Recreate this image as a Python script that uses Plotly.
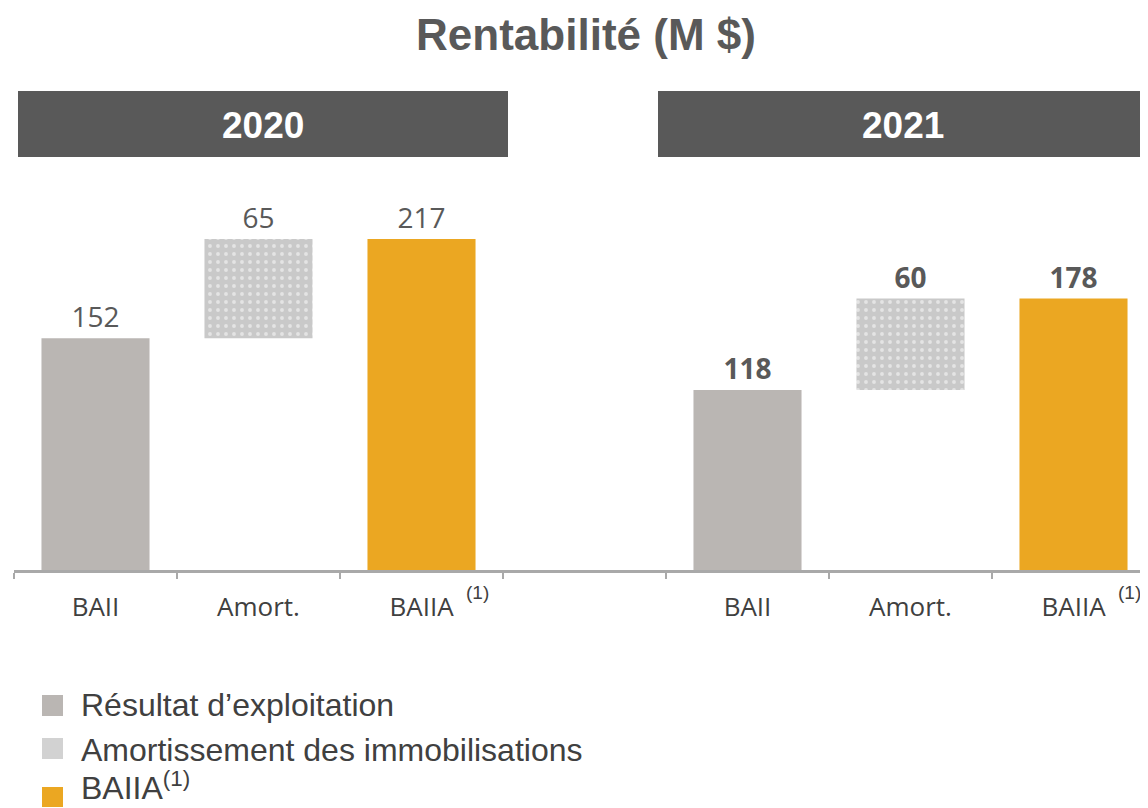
import plotly.graph_objects as go

# Page body adds an 8px margin; figure is sized so reference pixels map 1:1
OFF = 8
W, H = 1148 - OFF, 808 - OFF

# ---------------- data ----------------
years = ["2020", "2021"]
ebit = [152, 118]          # BAII
amort = [65, 60]           # Amortissement
ebitda = [217, 178]        # BAIIA
cat_ids = ["BAII_2020", "Amort_2020", "BAIIA_2020", "gap",
           "BAII_2021", "Amort_2021", "BAIIA_2021"]
tick_labels = ["BAII", "Amort.", "BAIIA", " ", "BAII", "Amort.", "BAIIA"]
legend_labels = ["Résultat d’exploitation", "Amortissement des immobilisations", "BAIIA<sup>(1)</sup>"]

GRAY = "#BAB6B3"
ORANGE = "#EBA722"
PAT_BG = "#c9c9c9"
TXT = "#404040"
VAL = "#595959"
HEAD = "#595959"


def px_x(x):
    """reference page pixel -> paper fraction"""
    return (x - OFF) / W


def px_y(y):
    return 1 - (y - OFF) / H


def lab(vals):
    return [f"{v}" if yr == "2020" else f"<b>{v}</b>" for v, yr in zip(vals, years)]


val_font = dict(family="Open Sans", size=28, color=VAL)

fig = go.Figure()
fig.add_trace(go.Bar(
    x=[f"BAII_{y}" for y in years], y=ebit, marker=dict(color=GRAY, line=dict(width=0)),
    text=lab(ebit), textposition="outside", textfont=val_font, cliponaxis=False,
    showlegend=False, hoverinfo="skip"))
fig.add_trace(go.Bar(
    x=[f"Amort_{y}" for y in years], y=amort, base=ebit,
    marker=dict(color=PAT_BG, line=dict(width=0),
                pattern=dict(shape=".", fillmode="overlay", fgcolor="white",
                             size=8, solidity=0.18)),
    text=lab(amort), textposition="outside", textfont=val_font, cliponaxis=False,
    showlegend=False, hoverinfo="skip"))
fig.add_trace(go.Bar(
    x=[f"BAIIA_{y}" for y in years], y=ebitda, marker=dict(color=ORANGE, line=dict(width=0)),
    text=lab(ebitda), textposition="outside", textfont=val_font, cliponaxis=False,
    showlegend=False, hoverinfo="skip"))

shapes = []
annotations = []

# year header boxes
for (x0, x1, yr) in [(18, 508, years[0]), (658, 1148, years[1])]:
    shapes.append(dict(type="rect", xref="paper", yref="paper",
                       x0=px_x(x0), x1=px_x(x1), y0=px_y(157), y1=px_y(91),
                       fillcolor=HEAD, line=dict(width=0), layer="below"))
    annotations.append(dict(xref="paper", yref="paper", x=px_x((x0 + x1) / 2), y=px_y(125),
                            xanchor="center", yanchor="middle", showarrow=False,
                            text=f"<b>{yr}</b>",
                            font=dict(family="Liberation Sans", size=37, color="white")))

# superscript (1) next to BAIIA tick labels
for yr in years:
    annotations.append(dict(xref="x", yref="paper", x=f"BAIIA_{yr}", xshift=56,
                            y=px_y(592), xanchor="center", yanchor="middle",
                            showarrow=False, text="(1)",
                            font=dict(family="Liberation Sans", size=19, color=TXT)))

# custom legend: (square top, square bottom, text y, text anchor)
leg_rows = [(695, 716, 705, "middle", GRAY),
            (738, 759, 750, "middle", "#d2d2d2"),
            (787, 807, 808, "bottom", ORANGE)]
for (s0, s1, ty, anc, col), txt in zip(leg_rows, legend_labels):
    shapes.append(dict(type="rect", xref="paper", yref="paper",
                       x0=px_x(42), x1=px_x(63), y0=px_y(s1), y1=px_y(s0),
                       line=dict(width=0), fillcolor=col))
    annotations.append(dict(xref="paper", yref="paper", x=px_x(79), y=px_y(ty),
                            xanchor="left", yanchor=anc, showarrow=False, text=txt,
                            font=dict(family="Liberation Sans", size=32, color=TXT)))

cat_w = 163.0
plot_left = 14
plot_right = 1148
base_y = 570
top_y = 170
scale = 1.525

fig.update_layout(
    width=W, height=H,
    margin=dict(l=0, r=0, t=0, b=0),
    paper_bgcolor="white", plot_bgcolor="white",
    barmode="overlay", bargap=0.337,
    title=dict(text="<b>Rentabilité (M $)</b>", x=px_x(586), y=px_y(35),
               xanchor="center", yanchor="middle", xref="paper", yref="paper",
               font=dict(family="Liberation Sans", size=44, color=VAL)),
    xaxis=dict(domain=[px_x(plot_left), px_x(plot_right)], type="category",
               categoryorder="array", categoryarray=cat_ids,
               range=[-0.5, -0.5 + (plot_right - plot_left) / cat_w],
               tickmode="array", tickvals=cat_ids, ticktext=tick_labels,
               tickson="boundaries", ticks="outside", ticklen=6, tickwidth=2,
               tickcolor="#a9a9a9", showline=True, linecolor="#a9a9a9", linewidth=2.5,
               showgrid=False, zeroline=False, ticklabelstandoff=12,
               tickfont=dict(family="Open Sans", size=26, color=TXT), fixedrange=True),
    yaxis=dict(domain=[px_y(base_y), px_y(top_y)], range=[0, (base_y - top_y) / scale],
               visible=False, showgrid=False, zeroline=False, fixedrange=True),
    shapes=shapes, annotations=annotations,
    font=dict(family="Open Sans", color=TXT),
)

fig.write_html("out.html")
